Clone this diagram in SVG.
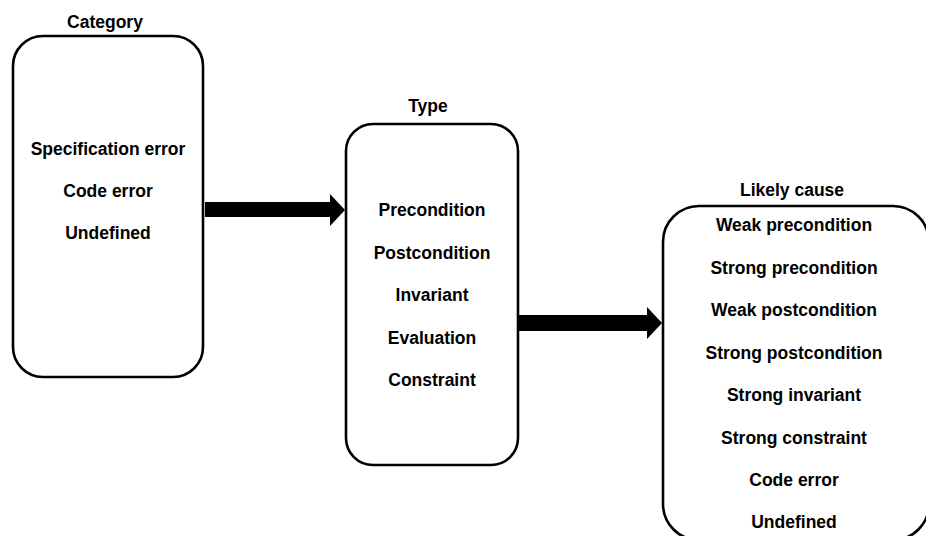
<svg xmlns="http://www.w3.org/2000/svg" width="926" height="536" viewBox="0 0 926 536">
  <style>
    .box { fill: #ffffff; stroke: #000000; stroke-width: 2.6; }
    .arrow { fill: #000000; stroke: none; }
    text { font-family: "Liberation Sans", Arial, sans-serif; font-size: 17.5px; font-weight: bold; fill: #000000; text-anchor: middle; }
  </style>
  <rect width="926" height="536" fill="#ffffff"/>

  <!-- connectors -->
  <g id="connectors">
    <polygon class="arrow" points="205,202 330,202 330,194 345,210 330,226 330,217 205,217"/>
    <polygon class="arrow" points="518,315 647,315 647,307 662,323 647,339 647,331 518,331"/>
  </g>

  <!-- category -->
  <g id="category">
    <text x="105" y="28">Category</text>
    <rect class="box" x="13" y="36" width="190" height="341" rx="30" ry="30"/>
    <text x="108" y="155">Specification error</text>
    <text x="108" y="197">Code error</text>
    <text x="108" y="239">Undefined</text>
  </g>

  <!-- type -->
  <g id="type">
    <text x="428" y="112">Type</text>
    <rect class="box" x="346" y="124" width="172" height="341" rx="27" ry="27"/>
    <text x="432" y="216">Precondition</text>
    <text x="432" y="258.5">Postcondition</text>
    <text x="432" y="301">Invariant</text>
    <text x="432" y="343.5">Evaluation</text>
    <text x="432" y="386">Constraint</text>
  </g>

  <!-- likely cause -->
  <g id="likely-cause">
    <text x="792" y="196">Likely cause</text>
    <rect class="box" x="663" y="206" width="266" height="334" rx="36" ry="36"/>
    <text x="794" y="231">Weak precondition</text>
    <text x="794" y="274">Strong precondition</text>
    <text x="794" y="316">Weak postcondition</text>
    <text x="794" y="359">Strong postcondition</text>
    <text x="794" y="401">Strong invariant</text>
    <text x="794" y="444">Strong constraint</text>
    <text x="794" y="486">Code error</text>
    <text x="794" y="528">Undefined</text>
  </g>
</svg>
